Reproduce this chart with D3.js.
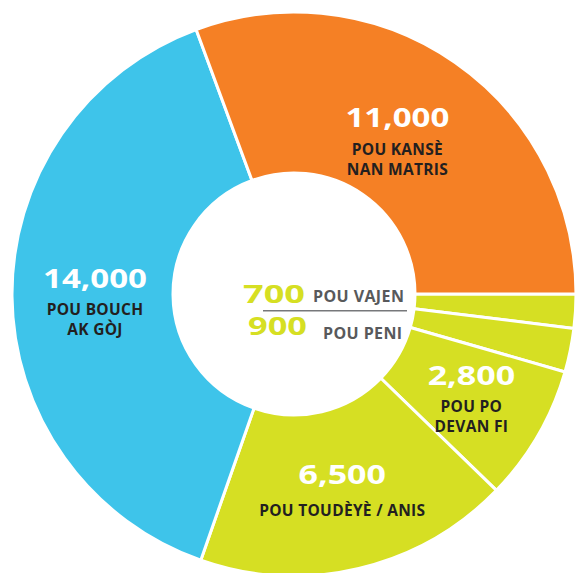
<!DOCTYPE html>
<html>
<head>
<meta charset="utf-8">
<script src="https://cdn.jsdelivr.net/npm/d3@7"></script>
<style>
  body { margin: 0; background: #fff; }
  svg text { font-family: "Open Sans", "Noto Sans", sans-serif; font-weight: 700; }
  .num { font-family: "Noto Sans", sans-serif; }
</style>
</head>
<body>
<div id="main"></div>
<script>
var ctx = {
    w: 584,
    h: 573,
    cx: 294,
    cy: 294,
    rIn: 121,
    rOut: 282,
};

// slices, clockwise from 3 o'clock
var categories = ["VAJEN", "PENI", "PO DEVAN FI", "TOUDÈYÈ / ANIS", "BOUCH AK GÒJ", "KANSÈ NAN MATRIS"];
var values = [700, 900, 2800, 6500, 14000, 11000];
var groups = ["gen", "gen", "gen", "gen", "head", "cervix"];
var labelLines = [
    null,
    null,
    ["POU PO", "DEVAN FI"],
    ["POU TOUDÈYÈ / ANIS"],
    ["POU BOUCH", "AK GÒJ"],
    ["POU KANSÈ", "NAN MATRIS"],
];
// centre labels for the two thin slices
var centerItems = [0, 1];
var centerNames = ["POU VAJEN", "POU PENI"];

var color = d3.scaleOrdinal()
    .domain(["gen", "head", "cervix"])
    .range(["#d6df23", "#3ec4ea", "#f58025"]);

var labelRadius = { 2: 205, 3: 210, 4: 199, 5: 181 };
var labelShift = { 2: 6, 4: 10 };

var fmt = d3.format(",");

// wide display figures: stretch to the width they take in the print
var numWidth = function (s) {
    return s.length * 16.5 + 5;
};

var createChart = function (svg) {
    var data = values.map((v, i) => ({ i: i, value: v }));

    var pie = d3.pie()
        .sort(null)
        .value((d) => d.value)
        .startAngle(Math.PI / 2)
        .endAngle(Math.PI / 2 + 2 * Math.PI);

    var arcs = pie(data);

    var arc = d3.arc().innerRadius(ctx.rIn).outerRadius(ctx.rOut);

    var g = svg.append("g")
        .attr("transform", `translate(${ctx.cx},${ctx.cy})`);

    g.selectAll("path")
        .data(arcs)
        .enter()
        .append("path")
        .attr("d", arc)
        .attr("fill", (d) => color(groups[d.data.i]))
        .attr("stroke", "#fff")
        .attr("stroke-width", 3)
        .attr("stroke-linejoin", "round");

    // slice labels
    var lab = g.selectAll(".lab")
        .data(arcs.filter((d) => labelLines[d.data.i]))
        .enter()
        .append("g")
        .attr("class", "lab")
        .attr("transform", function (d) {
            var r = labelRadius[d.data.i];
            var c = d3.arc().innerRadius(r).outerRadius(r).centroid(d);
            var s = labelShift[d.data.i] || 0;
            return `translate(${c[0]},${c[1] + s})`;
        });

    lab.append("text")
        .attr("class", "num")
        .attr("text-anchor", "middle")
        .attr("y", (d) => (labelLines[d.data.i].length == 1 ? -14 : -18))
        .attr("fill", "#fff")
        .attr("font-size", 27)
        .attr("textLength", (d) => numWidth(fmt(d.data.value)))
        .attr("lengthAdjust", "spacingAndGlyphs")
        .text((d) => fmt(d.data.value));

    lab.each(function (d) {
        var lines = labelLines[d.data.i];
        var base = lines.length == 1 ? 18 : 9.5;
        d3.select(this)
            .selectAll(".line")
            .data(lines)
            .enter()
            .append("text")
            .attr("class", "line")
            .attr("text-anchor", "middle")
            .attr("y", (t, k) => base + k * 20)
            .attr("fill", "#231f20")
            .attr("font-size", 15.5)
            .attr("letter-spacing", 0.3)
            .text((t) => t);
    });

    // centre block
    var cg = g.append("g").attr("transform", "translate(14,0)");
    var rows = cg.selectAll(".crow")
        .data(centerItems)
        .enter()
        .append("g")
        .attr("class", "crow");

    rows.append("text")
        .attr("class", "num")
        .attr("text-anchor", "end")
        .attr("x", (d, k) => (k == 0 ? -3 : -1))
        .attr("y", (d, k) => (k == 0 ? 9 : 41))
        .attr("fill", color("gen"))
        .attr("font-size", 25)
        .attr("textLength", (d, k) => (k == 0 ? 62 : 59))
        .attr("lengthAdjust", "spacingAndGlyphs")
        .text((d) => fmt(values[d]));

    rows.append("text")
        .attr("x", (d, k) => (k == 0 ? 5 : 15))
        .attr("y", (d, k) => (k == 0 ? 7.7 : 45.3))
        .attr("fill", "#58595b")
        .attr("font-size", 16)
        .attr("letter-spacing", 0.4)
        .text((d, k) => centerNames[k]);

    cg.append("line")
        .attr("x1", -45)
        .attr("x2", 99)
        .attr("y1", 16.7)
        .attr("y2", 16.7)
        .attr("stroke", "#77787b")
        .attr("stroke-width", 1.5);
};

var svgEl = d3.select("#main").append("svg")
    .attr("width", ctx.w)
    .attr("height", ctx.h);
createChart(svgEl);
</script>
</body>
</html>
